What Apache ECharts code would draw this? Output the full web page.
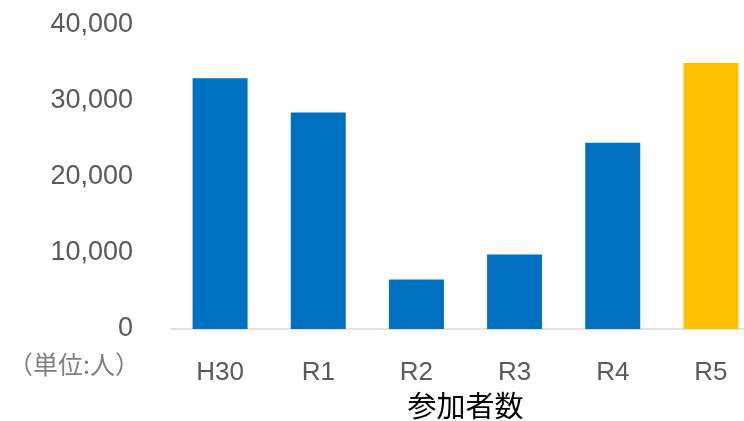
<!DOCTYPE html>
<html>
<head>
<meta charset="utf-8">
<script src="https://cdn.jsdelivr.net/npm/echarts@6/dist/echarts.min.js"></script>
<style>
html,body{margin:0;padding:0;background:#fff;}
#chart{width:744px;height:421px;}
</style>
</head>
<body>
<div id="chart"></div>
<script>
var categories = ['H30', 'R1', 'R2', 'R3', 'R4', 'R5'];
var participants = [33000, 28500, 6500, 9800, 24500, 35000];
var barColors = ['#0070C0', '#0070C0', '#0070C0', '#0070C0', '#0070C0', '#FFC000'];
var xAxisTitle = '参加者数';
var unitLabel = '（単位:人）';

var FONT = "'Liberation Sans', 'Noto Sans CJK JP', sans-serif";
var chart = echarts.init(document.getElementById('chart'));
chart.setOption({
  animation: false,
  textStyle: { fontFamily: FONT },
  grid: { left: 171, right: -16, top: 25, bottom: 92, containLabel: false, outerBoundsMode: 'none' },
  xAxis: {
    type: 'category',
    data: categories,
    axisLine: { lineStyle: { color: '#d9d9d9', width: 1.5 } },
    axisTick: { show: false },
    axisLabel: { color: '#595959', fontSize: 26, margin: 31, fontFamily: FONT },
    name: xAxisTitle,
    nameLocation: 'middle',
    nameGap: 62,
    nameTextStyle: { color: '#000', fontSize: 29, fontFamily: "'Noto Sans CJK JP', sans-serif" }
  },
  yAxis: {
    type: 'value',
    min: 0, max: 40000, interval: 10000,
    splitLine: { show: false },
    axisLine: { show: false },
    axisTick: { show: false },
    axisLabel: {
      color: '#595959', fontSize: 27, margin: 38, fontFamily: FONT,
      formatter: function (v) { return v.toLocaleString('en-US'); }
    }
  },
  graphic: [{
    type: 'text',
    left: 8, top: 352,
    style: { text: unitLabel, fill: '#7f7f7f', fontSize: 25, fontFamily: "'Noto Sans CJK JP', sans-serif" }
  }],
  series: [{
    type: 'bar',
    data: participants.map(function (v, i) { return { value: v, itemStyle: { color: barColors[i] } }; }),
    barWidth: '56%'
  }]
});
</script>
</body>
</html>
